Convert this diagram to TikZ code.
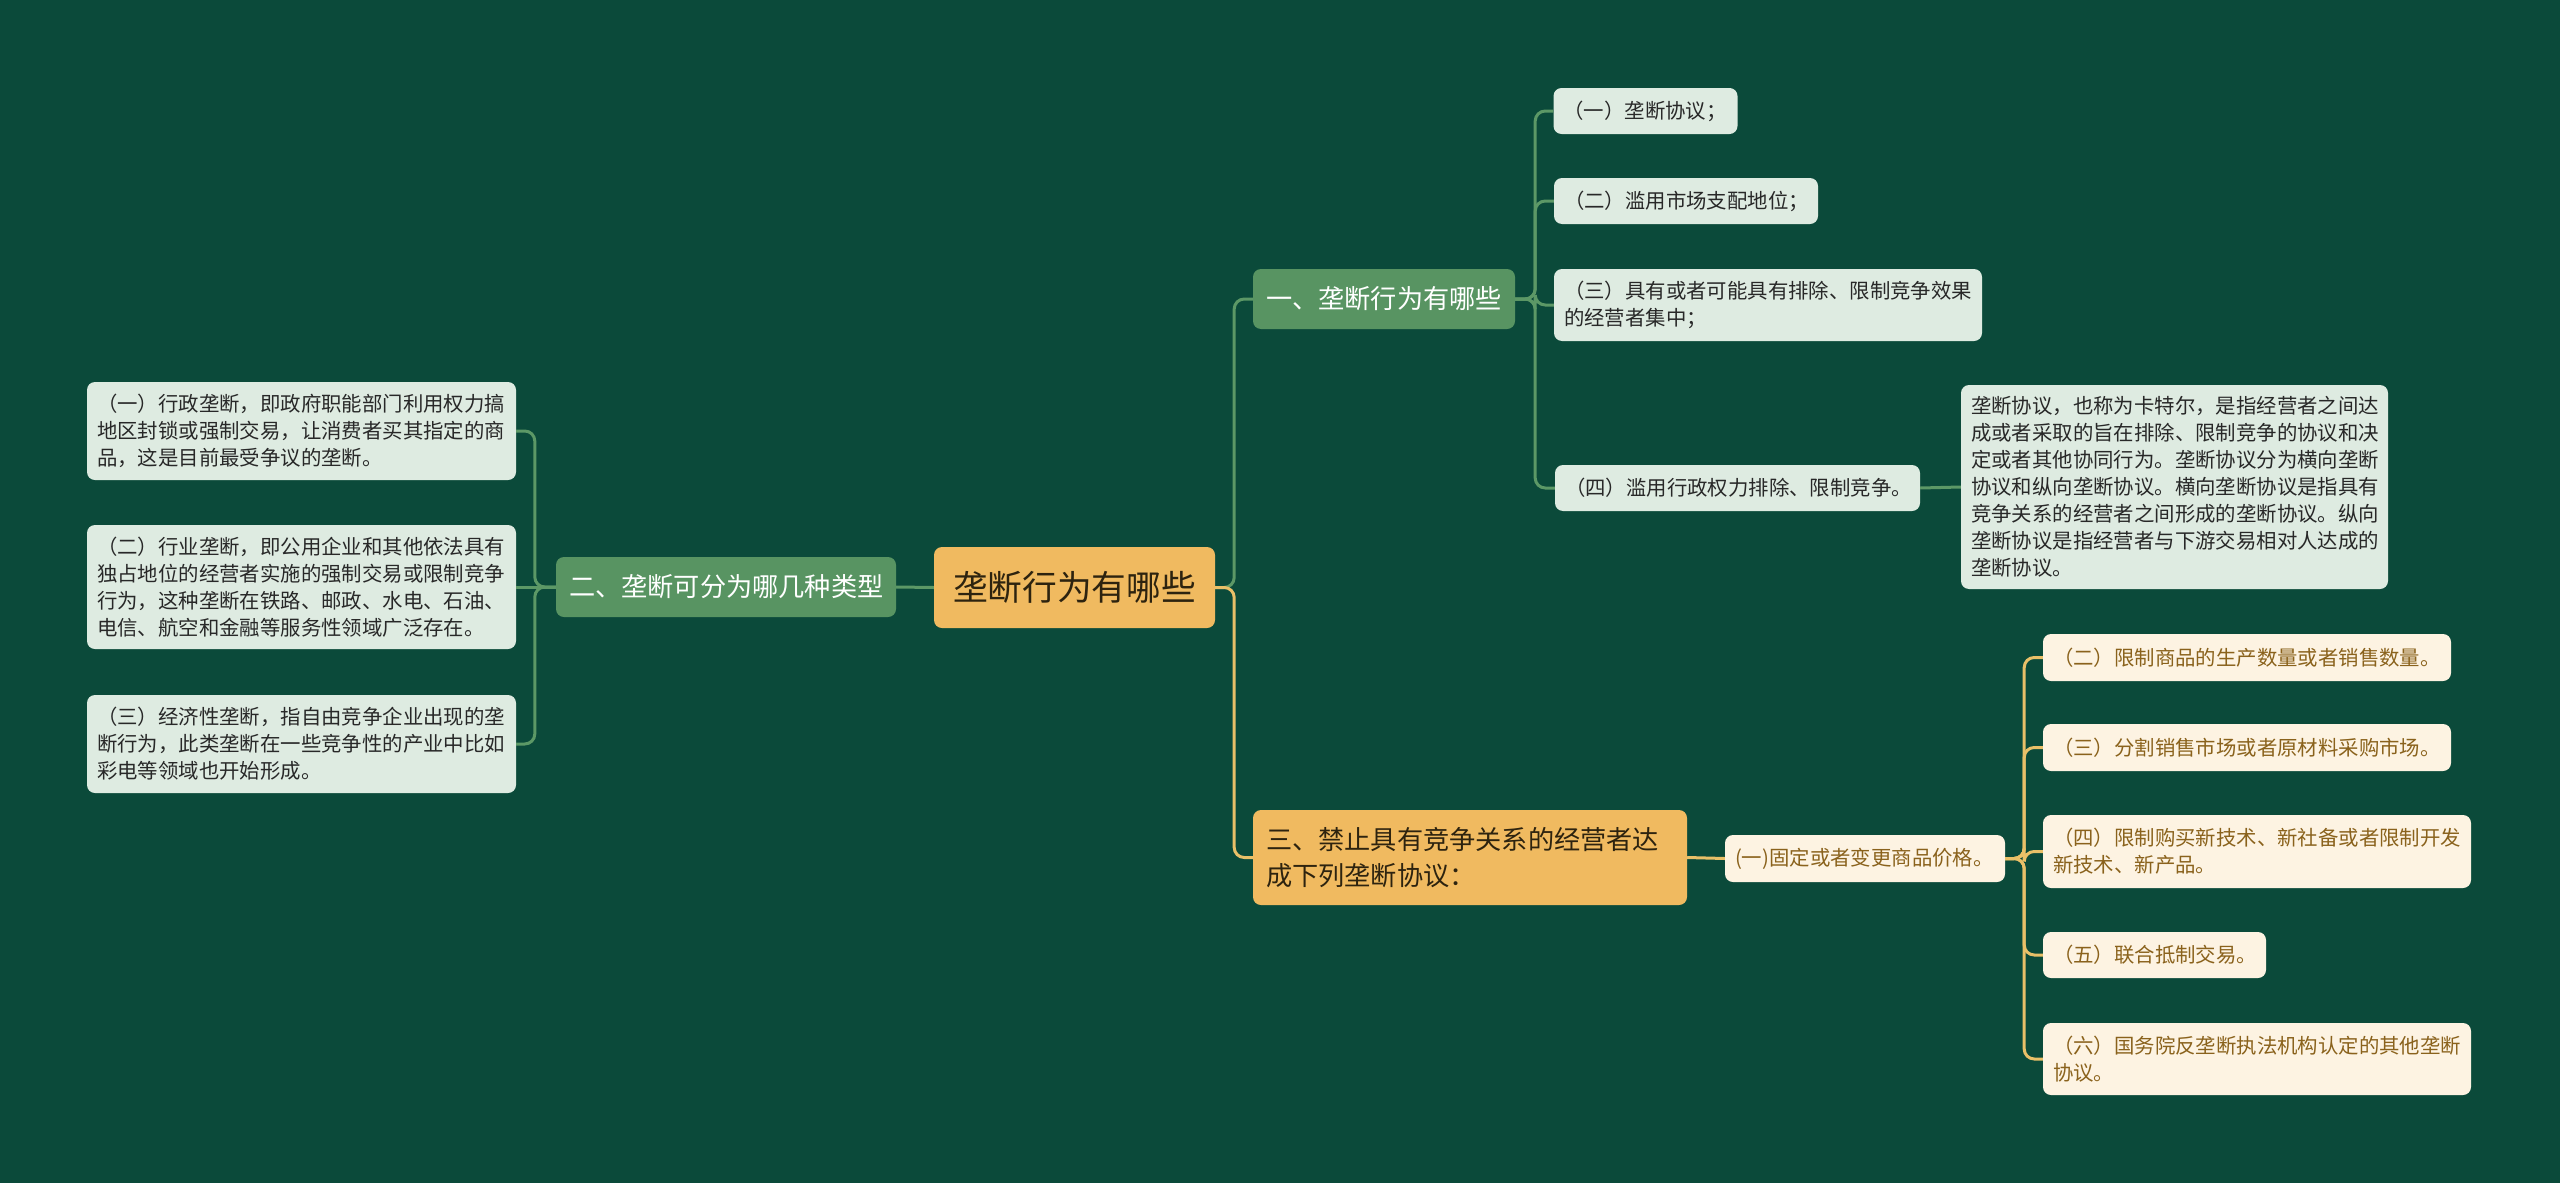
\documentclass[tikz,border=0pt]{standalone}
\usepackage{fontspec}
\setmainfont{Noto Sans CJK SC}
\definecolor{bgc}{RGB}{11,74,58}
\definecolor{gbranch}{RGB}{88,148,98}
\definecolor{gleaf}{RGB}{222,235,225}
\definecolor{glinec}{RGB}{92,152,102}
\definecolor{orng}{RGB}{240,186,96}
\definecolor{cream}{RGB}{253,243,226}
\definecolor{brownt}{RGB}{138,98,28}
\definecolor{ylinec}{RGB}{233,192,104}
\definecolor{darkt}{RGB}{40,40,40}
\definecolor{roott}{RGB}{45,35,15}
\begin{document}
\begin{tikzpicture}[x=1pt,y=-1pt,
  base/.style={rounded corners=8pt, inner ysep=0pt},
  rootbox/.style={base, fill=orng, text=roott, font=\fontsize{34.7}{40}\selectfont, minimum width=281pt, minimum height=81pt, inner xsep=0pt},
  gbr/.style={base, fill=gbranch, text=white, font=\fontsize{26.2}{36.7}\selectfont, inner xsep=13pt, align=left, minimum height=60pt},
  ybr/.style={base, fill=orng, text=roott, font=\fontsize{26.2}{36.7}\selectfont, inner xsep=13pt, align=left},
  gleafbox/.style={base, fill=gleaf, text=darkt, font=\fontsize{20.4}{27}\selectfont, inner xsep=10pt, align=left},
  yleafbox/.style={base, fill=cream, text=brownt, font=\fontsize{20.4}{27}\selectfont, inner xsep=10pt, align=left},
  gconn/.style={draw=glinec, line width=3pt, rounded corners=10pt},
  yconn/.style={draw=ylinec, line width=3pt, rounded corners=10pt},
]
\fill[bgc] (0,0) rectangle (2560,1183);
\useasboundingbox (0,0) rectangle (2560,1183);

% root and branches
\node[rootbox] (root) at (1074.5,587.5) {垄断行为有哪些};
\node[gbr, text width=314pt] (b2) at (726,587) {二、垄断可分为哪几种类型};
\node[gbr, text width=236pt] (b1) at (1384,299) {一、垄断行为有哪些};
\node[ybr, text width=408pt, minimum height=95pt] (b3) at (1470,857.5) {三、禁止具有竞争关系的经营者达\\成下列垄断协议：};

% left leaves
\node[gleafbox, text width=409pt, minimum height=98pt] (L1) at (301.5,431) {（一）行政垄断，即政府职能部门利用权力搞\\地区封锁或强制交易，让消费者买其指定的商\\品，这是目前最受争议的垄断。};
\node[gleafbox, text width=409pt, minimum height=124pt] (L2) at (301.5,587) {（二）行业垄断，即公用企业和其他依法具有\\独占地位的经营者实施的强制交易或限制竞争\\行为，这种垄断在铁路、邮政、水电、石油、\\电信、航空和金融等服务性领域广泛存在。};
\node[gleafbox, text width=409pt, minimum height=98pt] (L3) at (301.5,744) {（三）经济性垄断，指自由竞争企业出现的垄\\断行为，此类垄断在一些竞争性的产业中比如\\彩电等领域也开始形成。};

% branch 1 children
\node[gleafbox, text width=164pt, minimum height=46pt] (c1) at (1645.5,111) {（一）垄断协议；};
\node[gleafbox, text width=244pt, minimum height=46pt] (c2) at (1686,201) {（二）滥用市场支配地位；};
\node[gleafbox, text width=408pt, minimum height=72pt] (c3) at (1768,305) {（三）具有或者可能具有排除、限制竞争效果\\的经营者集中；};
\node[gleafbox, text width=345pt, minimum height=46pt] (c4) at (1737.5,488) {（四）滥用行政权力排除、限制竞争。};
\node[gleafbox, text width=407pt, minimum height=204pt] (c4d) at (2174.5,487) {垄断协议，也称为卡特尔，是指经营者之间达\\成或者采取的旨在排除、限制竞争的协议和决\\定或者其他协同行为。垄断协议分为横向垄断\\协议和纵向垄断协议。横向垄断协议是指具有\\竞争关系的经营者之间形成的垄断协议。纵向\\垄断协议是指经营者与下游交易相对人达成的\\垄断协议。};

% branch 3 children
\node[yleafbox, text width=260pt, minimum height=47pt] (e1) at (1865,858.5) {(一)固定或者变更商品价格。};
\node[yleafbox, text width=388pt, minimum height=47pt] (d2) at (2247,657.5) {（二）限制商品的生产数量或者销售数量。};
\node[yleafbox, text width=388pt, minimum height=47pt] (d3) at (2247,747.5) {（三）分割销售市场或者原材料采购市场。};
\node[yleafbox, text width=408pt, minimum height=73pt] (d4) at (2257,851.5) {（四）限制购买新技术、新社备或者限制开发\\新技术、新产品。};
\node[yleafbox, text width=203pt, minimum height=46pt] (d5) at (2154.5,955) {（五）联合抵制交易。};
\node[yleafbox, text width=408pt, minimum height=72pt] (d6) at (2257,1059) {（六）国务院反垄断执法机构认定的其他垄断\\协议。};

% connectors (behind nodes)
\begin{scope}[on background layer/.try]
\end{scope}
\draw[gconn] (root.west) -- (b2.east);
\draw[gconn] (b2.west) -- ++(-21,0) |- (L1.east);
\draw[gconn] (b2.west) -- (L2.east);
\draw[gconn] (b2.west) -- ++(-21,0) |- (L3.east);
\draw[gconn] (root.east) -- ++(19,0) |- (b1.west);
\draw[yconn] (root.east) -- ++(19,0) |- (b3.west);
\draw[gconn] (b1.east) -- ++(20,0) |- (c1.west);
\draw[gconn] (b1.east) -- ++(20,0) |- (c2.west);
\draw[gconn] (b1.east) -- ++(20,0) |- (c3.west);
\draw[gconn] (b1.east) -- ++(20,0) |- (c4.west);
\draw[gconn] (c4.east) -- (c4d.west);
\draw[yconn] (b3.east) -- (e1.west);
\draw[yconn] (e1.east) -- ++(19,0) |- (d2.west);
\draw[yconn] (e1.east) -- ++(19,0) |- (d3.west);
\draw[yconn] (e1.east) -- ++(19,0) |- (d4.west);
\draw[yconn] (e1.east) -- ++(19,0) |- (d5.west);
\draw[yconn] (e1.east) -- ++(19,0) |- (d6.west);
\end{tikzpicture}
\end{document}
